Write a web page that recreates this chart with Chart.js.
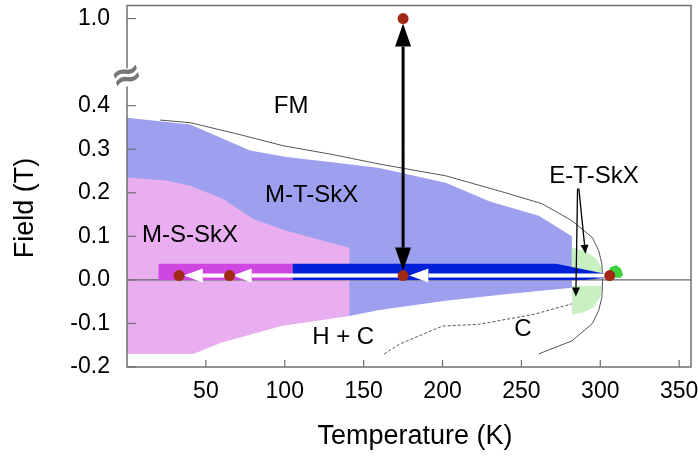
<!DOCTYPE html>
<html>
<head>
<meta charset="utf-8">
<script src="https://cdn.jsdelivr.net/npm/chart.js@4.4.1/dist/chart.umd.min.js"></script>
<style>
html,body{margin:0;padding:0;background:#fff;}
#wrap{width:698px;height:457px;}
</style>
</head>
<body>
<div id="wrap"><canvas id="c" width="698" height="457"></canvas></div>
<script>
const FONT="'Liberation Sans', Arial, Helvetica, sans-serif";

const tempTicks=[50,100,150,200,250,300,350];
const fieldTicks=[-0.2,-0.1,0.0,0.1,0.2,0.3,0.4,1.0];

// phase regions and boundaries, [T (K), B (T)]
const mtSkx=[[0,0.372],[40,0.357],[78,0.297],[101,0.282],[130,0.270],[160,0.257],[202,0.223],[230,0.180],[261,0.147],[282,0.100],[282,-0.018],[240,-0.033],[202,-0.048],[160,-0.069],[141,-0.083],[0,-0.083]];
const msSkx=[[0,0.235],[25,0.228],[40,0.216],[61,0.186],[80,0.140],[101,0.113],[141,0.074],[141,-0.083],[98,-0.106],[60,-0.144],[42,-0.170],[0,-0.170]];
const etSkxUp=[[282,0.074],[291,0.066],[297,0.050],[300.5,0.030],[301,0.015],[282,0.015]];
const etSkxDown=[[282,-0.014],[301,-0.014],[300,-0.040],[295.5,-0.064],[289,-0.075],[282,-0.080]];
const etSkxEdge=[[305,0.012],[306,0.028],[310,0.034],[313,0.026],[314.5,0.012],[313,0.005],[307,0.005]];
const fmLine=[[21,0.367],[40,0.361],[70,0.335],[99,0.308],[130,0.288],[160,0.266],[202,0.239],[240,0.200],[263,0.175],[282,0.136],[295,0.097],[299,0.067],[301,0.037],[301.5,0.000],[301,-0.040],[299,-0.070],[295,-0.100],[282,-0.140],[261,-0.170]];
const hcLine=[[163,-0.170],[173,-0.147],[200,-0.106],[223,-0.102],[258,-0.079],[282,-0.055]];

// cooling tracks at low field
const trackLowT=[[20,0],[20,0.037],[105,0.037],[105,0]];
const trackHighT=[[105,0],[105,0.037],[272,0.037],[307,0.011],[307,0.006],[290,0]];
const measured=[[175,1.0],[306,0.01],[175,0.01],[65,0.01],[33,0.01]];
const coolSteps=[[[306,0.01],[179,0.01]],[[175,0.01],[67,0.01]],[[65,0.01],[36,0.01]]];
const fieldStep=[[175,1.0],[175,0.01]];
const etPointers=[[[286.4,0.210],[290.6,0.060]],[[285.6,0.210],[284.5,-0.038]]];

const regionLabels=[["FM",104,0.398],["M-T-SkX",117,0.194],["M-S-SkX",40,0.102],["H + C",137,-0.133],["C",251,-0.114],["E-T-SkX",296,0.237]];

// field axis is broken between 0.4 and 1.0
const toAxis=b=>b>=1?0.6+(b-1):b;
const pts=a=>a.map(([x,b])=>({x,y:toAxis(b)}));

function area(label,data,color,order){
  return {label,data:pts(data),backgroundColor:color,borderColor:'transparent',borderWidth:0,pointRadius:0,fill:'shape',order};
}
function curve(label,data,dash,order){
  return {label,data:pts(data),borderColor:'#555',borderWidth:1,borderDash:dash,pointRadius:0,fill:false,order};
}

function arrow(ctx,x0,y0,x1,y1,len,half,color,width){
  const a=Math.atan2(y1-y0,x1-x0);
  const bx=x1-len*Math.cos(a),by=y1-len*Math.sin(a);
  ctx.strokeStyle=color;ctx.lineWidth=width;
  ctx.beginPath();ctx.moveTo(x0,y0);ctx.lineTo(bx,by);ctx.stroke();
  ctx.fillStyle=color;
  ctx.beginPath();ctx.moveTo(x1,y1);
  ctx.lineTo(bx+half*Math.sin(a),by-half*Math.cos(a));
  ctx.lineTo(bx-half*Math.sin(a),by+half*Math.cos(a));
  ctx.closePath();ctx.fill();
}

// keep the plot box fixed, labels may overhang
function noPad(s){s.paddingTop=0;s.paddingBottom=0;s.paddingLeft=0;s.paddingRight=0;}

const extras={
  id:'extras',
  afterDatasetDraw(chart,args){
    const lbl=chart.data.datasets[args.index].label;
    const {ctx,chartArea:ca,scales:{x,y}}=chart;
    const px=p=>[x.getPixelForValue(p[0]),y.getPixelForValue(toAxis(p[1]))];
    ctx.save();
    if(lbl==='hc'){
      const y0=y.getPixelForValue(0);
      ctx.strokeStyle='#666';ctx.lineWidth=1.3;
      ctx.beginPath();ctx.moveTo(ca.left,y0);ctx.lineTo(ca.right,y0);ctx.stroke();
    }
    if(lbl==='trackHighT'){
      coolSteps.forEach(([a,b])=>{const p=px(a),q=px(b);arrow(ctx,p[0],p[1],q[0],q[1],19,7,'#fff',4);});
      const top=px(fieldStep[0]),bot=px(fieldStep[1]);
      const mid=(top[1]+bot[1])/2;
      arrow(ctx,top[0],mid,top[0],top[1]+5,23,8,'#000',3);
      arrow(ctx,bot[0],mid,bot[0],bot[1]-5,23,8,'#000',3);
      etPointers.forEach(([a,b])=>{const p=px(a),q=px(b);arrow(ctx,p[0],p[1],q[0],q[1],9,4,'#000',1.3);});
    }
    ctx.restore();
  },
  afterDraw(chart){
    const {ctx,chartArea:ca,scales:{x,y}}=chart;
    ctx.save();
    ctx.strokeStyle='#707070';ctx.lineWidth=1.5;
    ctx.strokeRect(ca.left,ca.top,ca.right-ca.left,ca.bottom-ca.top);
    ctx.lineWidth=1.2;
    y.ticks.forEach(t=>{const p=y.getPixelForValue(t.value);ctx.beginPath();ctx.moveTo(ca.left,p);ctx.lineTo(ca.left+9,p);ctx.stroke();});
    x.ticks.forEach(t=>{const p=x.getPixelForValue(t.value);ctx.beginPath();ctx.moveTo(p,ca.bottom);ctx.lineTo(p,ca.bottom-7);ctx.stroke();});
    // axis break mark
    const yb=y.getPixelForValue(0.465);
    ctx.fillStyle='#fff';ctx.fillRect(ca.left-2,yb-9,4,18);
    ctx.translate(ca.left,yb);ctx.rotate(-0.3);
    ctx.fillStyle='#777';ctx.font="bold 38px 'DejaVu Sans'";ctx.textAlign='center';ctx.textBaseline='middle';
    ctx.fillText('\u2248',0,0);
    ctx.restore();
    ctx.save();
    ctx.fillStyle='#000';ctx.textAlign='center';ctx.textBaseline='middle';
    ctx.font='24px '+FONT;
    regionLabels.forEach(([s,t,b])=>ctx.fillText(s,x.getPixelForValue(t),y.getPixelForValue(toAxis(b))));
    ctx.font='27px '+FONT;
    ctx.fillText('Temperature (K)',415,437);
    ctx.translate(26,208);ctx.rotate(-Math.PI/2);
    ctx.fillText('Field (T)',0,0);
    ctx.restore();
  }
};

new Chart(document.getElementById('c'),{
  type:'line',
  data:{datasets:[
    area('mtSkx',mtSkx,'#9DA0EE',20),
    area('msSkx',msSkx,'#E8AEF0',19),
    area('etSkxUp',etSkxUp,'#C8F0C0',18),
    area('etSkxDown',etSkxDown,'#C8F0C0',17),
    area('etSkxEdge',etSkxEdge,'#3CD03C',16),
    curve('fm',fmLine,[],15),
    curve('hc',hcLine,[3,2],14),
    area('trackLowT',trackLowT,'#D046E0',6),
    area('trackHighT',trackHighT,'#0020D8',5),
    {label:'measured',data:pts(measured),showLine:false,pointRadius:5.5,pointBackgroundColor:'#A02A14',pointBorderWidth:0,order:1}
  ]},
  options:{
    responsive:false,animation:false,events:[],
    layout:{padding:{top:4,right:7,left:0,bottom:0}},
    plugins:{legend:{display:false},tooltip:{enabled:false}},
    scales:{
      x:{type:'linear',min:0,max:357.5,
        afterFit:s=>{s.height=90;noPad(s);},
        afterBuildTicks:s=>{s.ticks=tempTicks.map(v=>({value:v}));},
        grid:{display:false,drawTicks:false},border:{display:false},
        ticks:{padding:11,autoSkip:false,maxRotation:0,color:'#000',font:{family:FONT,size:23},callback:v=>String(v)}},
      y:{type:'linear',min:-0.2,max:0.63,
        afterFit:s=>{s.width=127;noPad(s);},
        afterBuildTicks:s=>{s.ticks=fieldTicks.map(v=>({value:toAxis(v)}));},
        grid:{display:false,drawTicks:false},border:{display:false},
        ticks:{padding:17,autoSkip:false,color:'#000',font:{family:FONT,size:23},
          callback:v=>{const f=fieldTicks.find(b=>Math.abs(toAxis(b)-v)<1e-9);return (f===undefined?v:f).toFixed(1);}}}
    }
  },
  plugins:[extras]
});
</script>
</body>
</html>
